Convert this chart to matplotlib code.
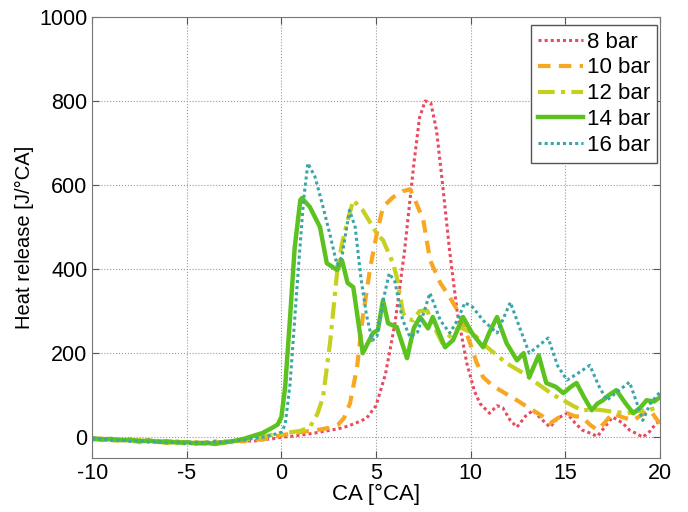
import numpy as np
import matplotlib.pyplot as plt

plt.rcParams['font.family'] = ['Liberation Sans', 'DejaVu Sans']
plt.rcParams['axes.unicode_minus'] = False

pre_x = [-10, -9.5, -9, -8.5, -8, -7.5, -7, -6.5, -6, -5.5, -5, -4.5, -4, -3.5, -3, -2.5, -2, -1.5, -1, -0.5]

# 8 bar
x8 = pre_x + [0, 0.5, 1, 1.5, 2, 2.5, 3, 3.5, 4, 4.5, 5, 5.5, 6, 6.5, 7, 7.3, 7.6, 7.9, 8.2, 8.5, 8.9,
              9.3, 9.8, 10.2, 10.5, 11.0, 11.4, 11.7, 12.1, 12.45, 12.9, 13.3, 13.7, 14.2, 14.6, 15.1, 15.5,
              15.9, 16.3, 16.7, 17.1, 17.5, 18.0, 18.4, 18.8, 19.1, 19.5, 19.8, 20]
y8 = [-4, -8, -3, -9, -5, -10, -6, -12, -8, -13, -10, -15, -11, -14, -9, -12, -7, -10, -5, -4,
      0, 2, 5, 8, 12, 16, 20, 26, 35, 45, 75, 150, 270, 440, 650, 760, 800, 795, 730, 610, 440,
      295, 176, 110, 80, 57, 75, 70, 40, 24, 50, 64, 45, 24, 45, 57, 35,
      17, 10, 2, 25, 48, 35, 17, 8, 0, 15, 33, 38]

# 10 bar
x10 = pre_x + [0, 0.5, 1, 1.5, 2, 2.5, 3, 3.3, 3.63, 4.0, 4.3, 4.7, 5.05, 5.37, 5.9, 6.4, 6.8, 7.1, 7.5,
               7.86, 8.4, 8.9, 9.4, 9.97, 10.3, 10.66, 11.1, 11.55, 12.0, 12.45, 12.9, 13.3, 13.8, 14.2,
               14.6, 15.1, 15.5, 15.9, 16.3, 16.7, 17.1, 17.5, 18.0, 18.6, 19.1, 19.5, 19.8, 20]
y10 = [-6, -3, -9, -5, -11, -7, -13, -9, -14, -10, -16, -12, -15, -11, -13, -8, -10, -4, -6, 0,
       5, 8, 12, 15, 18, 22, 30, 45, 81, 167, 286, 405, 486, 548, 571, 585, 590, 560, 517,
       421, 367, 333, 295, 224, 180, 143, 125, 112, 100, 88, 75, 64, 50, 33,
       45, 57, 50, 48, 30, 17, 35, 57, 48, 40, 55, 64, 45, 33]

# 12 bar
x12 = pre_x + [0, 0.5, 1, 1.5, 1.9, 2.2, 2.57, 2.94, 3.2, 3.47, 3.8, 4.3, 4.84, 5.1, 5.37, 5.9, 6.1, 6.43,
               6.7, 6.96, 7.3, 7.7, 8.1, 8.5, 9.0, 9.4, 10.1, 10.87, 11.4, 11.9, 12.8, 13.3, 13.8, 14.4,
               14.9, 15.4, 15.9, 16.5, 17.0, 17.6, 18.3, 18.8, 19.3, 20]
y12 = [-3, -7, -5, -10, -6, -12, -8, -11, -14, -9, -15, -13, -16, -10, -12, -9, -6, -3, 2, 5,
       8, 12, 15, 24, 55, 95, 224, 390, 460, 510, 564, 540, 500, 480, 469, 414, 381, 295,
       282, 278, 300, 302, 260, 224, 245, 262, 248, 214, 195, 176, 152, 135, 119, 100,
       88, 75, 64, 66, 64, 60, 57, 62, 64, 71]

# 14 bar
x14 = pre_x + [-0.2, 0, 0.2, 0.46, 0.7, 1.0, 1.08, 1.5, 2.04, 2.4, 2.94, 3.2, 3.5, 3.8, 4.3, 4.84, 5.1,
               5.37, 5.64, 6.1, 6.64, 7.0, 7.33, 7.75, 8.0, 8.65, 9.07, 9.6, 10.07, 10.66, 11.0, 11.4,
               11.9, 12.45, 12.8, 13.1, 13.6, 14.0, 14.5, 14.9, 15.3, 15.6, 16.0, 16.4, 16.7, 17.0,
               17.3, 17.7, 18.2, 18.6, 19.0, 19.3, 19.7, 20]
y14 = [-2, -5, -4, -7, -6, -9, -8, -11, -10, -13, -12, -15, -13, -16, -12, -9, -4, 3, 10, 22,
       30, 48, 120, 286, 450, 564, 569, 548, 500, 414, 398, 421, 367, 357, 200, 248, 255,
       326, 271, 262, 188, 260, 286, 259, 286, 214, 231, 286, 248, 214, 250, 286,
       224, 183, 200, 143, 195, 129, 120, 105, 120, 129, 95, 64, 80, 88,
       100, 112, 80, 57, 72, 88, 85, 95]

# 16 bar
x16 = pre_x + [0, 0.2, 0.46, 0.84, 1.17, 1.4, 1.78, 2.2, 2.6, 2.94, 3.2, 3.6, 3.9, 4.2, 4.5, 4.8, 5.05,
               5.4, 5.7, 6.0, 6.4, 6.8, 7.2, 7.85, 8.4, 8.9, 9.3, 9.7, 10.1, 10.66, 11.4, 12.1, 12.6,
               13.1, 14.1, 14.6, 15.1, 15.6, 16.3, 16.8, 17.2, 17.8, 18.4, 18.8, 19.1, 19.5, 20]
y16 = [-5, -3, -8, -6, -10, -8, -12, -10, -14, -11, -15, -12, -14, -10, -12, -8, -7, -3, 0, 5,
       12, 30, 128, 366, 564, 652, 619, 548, 476, 410, 430, 540, 500, 380, 290, 230, 240,
       330, 390, 370, 280, 238, 250, 343, 278, 248, 278, 320, 310, 278, 248, 321, 260,
       200, 236, 170, 136, 150, 171, 120, 88, 110, 131, 80, 40, 80, 107]

labels = ['8 bar', '10 bar', '12 bar', '14 bar', '16 bar']

fig = plt.figure(figsize=(6.88, 5.12), dpi=100)
ax = fig.add_axes([0.134, 0.105, 0.825, 0.862])

ax.plot(x8, y8, color='#e84a5f', lw=2.2, dashes=(1, 1), label=labels[0])
ax.plot(x10, y10, color='#f7a823', lw=3.0, dashes=(3, 2), label=labels[1])
ax.plot(x12, y12, color='#c5d11e', lw=3.0, dashes=(4, 1.5, 1, 1.5), label=labels[2])
ax.plot(x14, y14, color='#5cc21f', lw=3.2, label=labels[3])
ax.plot(x16, y16, color='#3aa6a8', lw=2.2, dashes=(1, 1), label=labels[4])

ax.set_xlim(-10, 20)
ax.set_ylim(-50, 1000)
ax.set_xticks([-10, -5, 0, 5, 10, 15, 20])
ax.set_yticks([0, 200, 400, 600, 800, 1000])
ax.grid(True, linestyle=':', color='#999999', lw=0.8)
ax.tick_params(direction='in', labelsize=15.5, length=5, color='#555555', top=True, right=True)
for s in ax.spines.values():
    s.set_color('#777777')
ax.set_xlabel('CA [°CA]', fontsize=16, labelpad=0)
ax.set_ylabel('Heat release [J/°CA]', fontsize=14.5, labelpad=4)

leg = ax.legend(loc='upper right', bbox_to_anchor=(0.995, 0.982), fontsize=16, fancybox=False,
                framealpha=1, edgecolor='#555555', handlelength=2.0, handletextpad=0.2,
                labelspacing=0.22, borderaxespad=0, borderpad=0.3)

plt.savefig('out.png', dpi=100)
